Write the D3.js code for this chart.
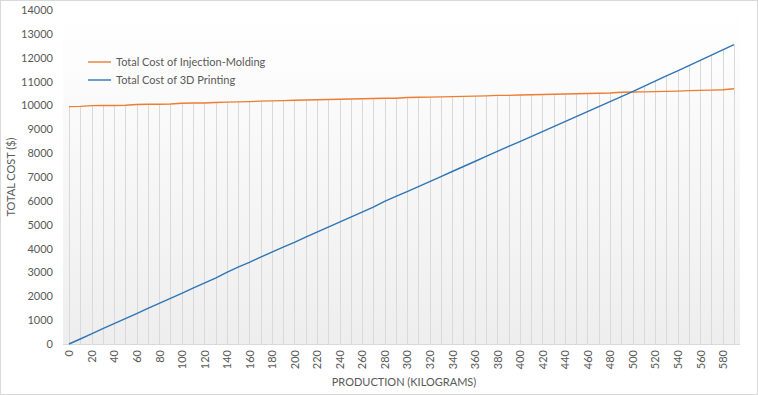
<!DOCTYPE html>
<html><head><meta charset="utf-8">
<script src="https://cdn.jsdelivr.net/npm/d3@7"></script>
<style>body{margin:0;background:#fff}svg{display:block}text{font-family:Lato,"Open Sans",sans-serif;fill:#595959}</style>
</head><body>
<svg id="c" width="758" height="395"></svg>
<script>
const categories = [0,10,20,30,40,50,60,70,80,90,100,110,120,130,140,150,160,170,180,190,200,210,220,230,240,250,260,270,280,290,300,310,320,330,340,350,360,370,380,390,400,410,420,430,440,450,460,470,480,490,500,510,520,530,540,550,560,570,580,590];
const injectionCost = [9950,9960,9990,10000,10000,10010,10040,10050,10050,10060,10090,10100,10100,10120,10140,10150,10160,10180,10190,10200,10220,10230,10240,10250,10260,10270,10280,10290,10300,10300,10330,10340,10350,10360,10370,10380,10390,10400,10420,10420,10440,10450,10460,10470,10480,10490,10500,10510,10520,10550,10560,10570,10580,10590,10600,10620,10630,10640,10660,10700];
const printingCost = [0,210,420,640,850,1060,1270,1490,1700,1910,2120,2340,2550,2760,3000,3220,3420,3640,3850,4060,4260,4480,4690,4900,5110,5320,5530,5740,5980,6190,6390,6600,6810,7020,7230,7440,7650,7860,8070,8280,8480,8690,8900,9110,9320,9530,9740,9950,10160,10370,10580,10800,11020,11240,11450,11670,11890,12110,12330,12550];
const yTicks = [0,1000,2000,3000,4000,5000,6000,7000,8000,9000,10000,11000,12000,13000,14000];
const xTickLabels = categories.filter((d,i)=>i%2===0);
const seriesNames = ["Total Cost of Injection-Molding","Total Cost of 3D Printing"];
const colors = ["#ED7D31","#2E75B6"];

const svg = d3.select("#c");
svg.append("rect").attr("x",0.5).attr("y",0.5).attr("width",757).attr("height",394).attr("fill","#fff").attr("stroke","#d9d9d9");

const x = d3.scalePoint().domain(categories).range([69,734]);
const y = d3.scaleLinear().domain([0,14000]).range([344,10]);

const defs = svg.append("defs");
const g = defs.append("linearGradient").attr("id","bg").attr("x1",0).attr("y1",0).attr("x2",0).attr("y2",1);
g.append("stop").attr("offset","0%").attr("stop-color","#ffffff");
g.append("stop").attr("offset","100%").attr("stop-color","#eeeeee");
svg.append("rect").attr("x",63).attr("y",10).attr("width",677).attr("height",334).attr("fill","url(#bg)");

// drop lines
svg.append("g").selectAll("line").data(categories).join("line")
  .attr("x1",d=>Math.round(x(d))+0.5).attr("x2",d=>Math.round(x(d))+0.5)
  .attr("y1",(d,i)=>y(Math.max(injectionCost[i],printingCost[i]))).attr("y2",y(0))
  .attr("stroke","#d9d9d9").attr("stroke-width",1);

// x axis line
svg.append("line").attr("x1",63).attr("x2",740).attr("y1",344.5).attr("y2",344.5).attr("stroke","#d9d9d9");

// y axis labels
const ya = svg.append("g").attr("transform","translate(53,0)").call(d3.axisLeft(y).tickValues(yTicks).tickSize(0).tickPadding(0).tickFormat(d3.format("d")));
ya.select(".domain").remove();
ya.selectAll("text").attr("font-size","11px").style("font-family","Lato,sans-serif").attr("fill","#595959");

// x axis labels
const xa = svg.append("g").attr("transform","translate(0,350)").call(d3.axisBottom(x).tickValues(xTickLabels).tickSize(0).tickPadding(0));
xa.select(".domain").remove();
xa.selectAll("text").attr("font-size","11px").style("font-family","Lato,sans-serif").attr("fill","#595959")
  .attr("transform","rotate(-90)").attr("text-anchor","end").attr("x",0).attr("y",0).attr("dx",0).attr("dy","0.35em");

// lines
const line = d3.line().x((d,i)=>x(categories[i])).y(d=>y(d));
[injectionCost, printingCost].forEach((s,k)=>{
  svg.append("path").datum(s).attr("d",line).attr("fill","none").attr("stroke",colors[k]).attr("stroke-width",1.4);
});

// legend
seriesNames.forEach((n,k)=>{
  const yy = 62 + k*18;
  svg.append("line").attr("x1",88).attr("x2",111).attr("y1",yy).attr("y2",yy).attr("stroke",colors[k]).attr("stroke-width",1.4);
  svg.append("text").attr("x",116).attr("y",yy).attr("dy","0.35em").attr("font-size","11px").text(n);
});

// titles
svg.append("text").attr("transform","translate(15,177) rotate(-90)").attr("text-anchor","middle").attr("font-size","11px").text("TOTAL COST ($)");
svg.append("text").attr("x",404).attr("y",386).attr("text-anchor","middle").attr("font-size","11px").text("PRODUCTION (KILOGRAMS)");
</script>
</body></html>
